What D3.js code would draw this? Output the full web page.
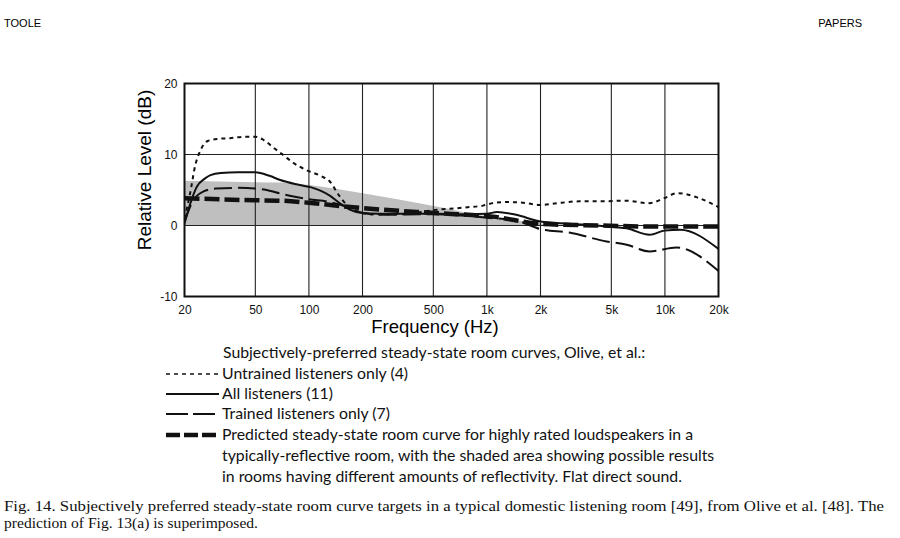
<!DOCTYPE html>
<html><head><meta charset="utf-8">
<script src="https://cdn.jsdelivr.net/npm/d3@7"></script>
<style>body{margin:0;background:#fff}svg{display:block}</style>
</head><body>
<script>
// ---- data ----
const xTicks = [20, 50, 100, 200, 500, 1000, 2000, 5000, 10000, 20000];
const xTickLabels = ["20", "50", "100", "200", "500", "1k", "2k", "5k", "10k", "20k"];
const yTicks = [-10, 0, 10, 20];
const yTickLabels = ["-10", "0", "10", "20"];

const untrainedF = [20, 21.5, 23, 24.5, 27, 31, 36, 44, 50, 56, 63, 72, 82, 97, 116, 131, 147, 163, 185, 220, 300, 400, 512, 650, 800, 950, 1100, 1300, 1600, 2000, 2400, 3300, 4500, 5900, 8200, 9800, 11800, 15000, 20000];
const untrainedDb = [1.0, 4.5, 8.5, 10.5, 11.9, 12.2, 12.3, 12.5, 12.5, 12.0, 11.0, 9.9, 8.8, 7.8, 7.0, 6.2, 4.3, 2.9, 2.0, 1.6, 1.6, 1.8, 2.2, 2.4, 2.6, 2.8, 3.2, 3.3, 3.2, 2.9, 3.1, 3.4, 3.4, 3.5, 3.15, 3.8, 4.56, 4.0, 2.6];

const allF = [20, 21.5, 23.5, 26, 28, 32, 40, 50, 60, 69, 85, 102, 116, 131, 150, 171, 194, 250, 500, 780, 1000, 1140, 1460, 2000, 2900, 4700, 6100, 8200, 10000, 12200, 20000];
const allDb = [0.3, 3.0, 5.5, 6.6, 7.1, 7.4, 7.5, 7.5, 7.0, 6.4, 5.8, 5.4, 4.9, 4.2, 3.1, 2.2, 1.8, 1.65, 1.65, 1.6, 1.65, 1.9, 1.5, 0.55, 0.25, -0.14, -0.4, -1.3, -0.7, -0.6, -3.3];

const trainedF = [20, 21, 22.5, 25.6, 30, 40, 50, 60, 69, 78, 100, 131, 156, 180, 203, 250, 500, 810, 1000, 1460, 2000, 2900, 4700, 6100, 8200, 11600, 20000];
const trainedDb = [0.5, 2.0, 3.6, 4.8, 5.2, 5.3, 5.2, 4.9, 4.5, 4.2, 3.7, 3.3, 2.8, 2.2, 1.75, 1.5, 1.6, 1.3, 1.1, 0.7, -0.5, -1.0, -2.25, -2.7, -3.66, -3.1, -6.4];

const predictedF = [20, 50, 69, 100, 156, 200, 512, 1080, 2060, 4500, 8000, 20000];
const predictedDb = [3.85, 3.55, 3.5, 3.2, 2.7, 2.45, 1.75, 1.25, 0.2, 0.0, -0.15, -0.15];

const shadeF = [20, 50, 69, 100, 200, 512, 1000, 2000, 2500, 20000];
const shadeTopDb = [6.3, 6.1, 6.05, 5.7, 4.55, 2.7, 1.3, 0.3, 0, 0];

const legendHeader = "Subjectively-preferred steady-state room curves, Olive, et al.:";
const legendLabels = ["Untrained listeners only (4)", "All listeners (11)", "Trained listeners only (7)",
  "Predicted steady-state room curve for highly rated loudspeakers in a"];
const legendExtra = ["typically-reflective room, with the shaded area showing possible results",
  "in rooms having different amounts of reflectivity.  Flat direct sound."];
const captionLines = ["Fig. 14.  Subjectively preferred steady-state room curve targets in a typical domestic listening room [49], from Olive et al. [48]. The",
  "prediction of Fig. 13(a) is superimposed."];

// ---- drawing ----
const W = 900, H = 538;
const svg = d3.select("body").append("svg").attr("width", W).attr("height", H);
const L = 184.5, R = 718.5, T = 83.5, B = 296.5;
const x = d3.scaleLog().domain([20, 20000]).range([L, R]);
const y = d3.scaleLinear().domain([-10, 20]).range([B, T]);
const sans = "'Liberation Sans', Arial, Helvetica, sans-serif";
const legFont = "Lato, 'Open Sans', sans-serif";

svg.append("text").attr("x", 4).attr("y", 27).attr("font-family", sans).attr("font-size", 11).text("TOOLE");
svg.append("text").attr("x", 862).attr("y", 27).attr("text-anchor", "end").attr("font-family", sans).attr("font-size", 11).text("PAPERS");

// shaded area
const shade = shadeF.map((f, i) => ({f, v: shadeTopDb[i]}));
svg.append("path").datum(shade)
  .attr("fill", "#bfbfbf")
  .attr("d", d3.area().x(d => x(d.f)).y0(y(0)).y1(d => y(d.v)).curve(d3.curveMonotoneX));

// grid
const g = svg.append("g");
g.selectAll("line.v").data(xTicks.slice(1, -1)).join("line")
  .attr("x1", d => x(d)).attr("x2", d => x(d)).attr("y1", T).attr("y2", B)
  .attr("stroke", "#222").attr("stroke-width", 1.1);
g.selectAll("line.h").data([0, 10]).join("line")
  .attr("x1", L).attr("x2", R).attr("y1", d => y(d)).attr("y2", d => y(d))
  .attr("stroke", "#222").attr("stroke-width", 1.1);

// axes labels via d3 axes
const xAxis = d3.axisBottom(x).tickValues(xTicks).tickFormat((d, i) => xTickLabels[i]).tickSize(0).tickPadding(9);
const xg = svg.append("g").attr("transform", `translate(0,${B})`).call(xAxis);
xg.select(".domain").remove();
xg.selectAll("text").attr("font-family", sans).attr("font-size", 12).attr("fill", "#111");
const yAxis = d3.axisLeft(y).tickValues(yTicks).tickFormat((d, i) => yTickLabels[i]).tickSize(0).tickPadding(7);
const yg = svg.append("g").attr("transform", `translate(${L},0)`).call(yAxis);
yg.select(".domain").remove();
yg.selectAll("text").attr("font-family", sans).attr("font-size", 12).attr("fill", "#111");

svg.append("text").attr("x", 435).attr("y", 333).attr("text-anchor", "middle")
  .attr("font-family", sans).attr("font-size", 18.5).text("Frequency (Hz)");
svg.append("text").attr("transform", "translate(151,170) rotate(-90)").attr("text-anchor", "middle")
  .attr("font-family", sans).attr("font-size", 19).text("Relative Level (dB)");

// curves
const line = d3.line().x(d => x(d.f)).y(d => y(d.v)).curve(d3.curveMonotoneX);
const series = [
  {f: untrainedF, v: untrainedDb, w: 2, dash: "4,4"},
  {f: allF, v: allDb, w: 2, dash: null},
  {f: trainedF, v: trainedDb, w: 2, dash: "18,6"},
  {f: predictedF, v: predictedDb, w: 4.5, dash: "15,5"}
];
svg.append("clipPath").attr("id", "pc").append("rect").attr("x", L).attr("y", T).attr("width", R - L).attr("height", B - T);
series.forEach(s => {
  const pts = s.f.map((f, i) => ({f, v: s.v[i]}));
  svg.append("path").datum(pts).attr("clip-path", "url(#pc)")
    .attr("fill", "none").attr("stroke", "#111").attr("stroke-width", s.w)
    .attr("stroke-dasharray", s.dash).attr("d", line);
});

// frame
svg.append("rect").attr("x", L).attr("y", T).attr("width", R - L).attr("height", B - T)
  .attr("fill", "none").attr("stroke", "#111").attr("stroke-width", 2);

// legend
const lx0 = 166, lx1 = 219, tx = 222, fs = 15.8;
const rowY = [379, 399, 419, 440];
svg.append("text").attr("x", 223).attr("y", 358).attr("font-family", legFont).attr("font-size", fs).attr("fill", "#111").text(legendHeader);
legendLabels.forEach((t, i) => {
  svg.append("line").attr("x1", lx0).attr("x2", lx1).attr("y1", rowY[i] - 5).attr("y2", rowY[i] - 5)
    .attr("stroke", "#111").attr("stroke-width", i === 3 ? 4.5 : (i === 0 ? 1.6 : 1.8))
    .attr("stroke-dasharray", i === 0 ? "4,4" : (i === 2 ? "22,5" : (i === 3 ? "14,4" : null)));
  svg.append("text").attr("x", tx).attr("y", rowY[i]).attr("font-family", legFont).attr("font-size", fs).attr("fill", "#111").text(t);
});
legendExtra.forEach((t, i) => {
  svg.append("text").attr("x", tx).attr("y", 461 + i * 21).attr("font-family", legFont).attr("font-size", fs).attr("fill", "#111").text(t);
});

// caption
const capLen = [880, 254];
captionLines.forEach((t, i) => {
  svg.append("text").attr("x", 4).attr("y", 511 + i * 17).attr("font-family", "'Liberation Serif', 'Times New Roman', serif")
    .attr("font-size", 14.5).attr("fill", "#111")
    .attr("textLength", capLen[i]).attr("lengthAdjust", "spacingAndGlyphs").text(t);
});
</script>
</body></html>
